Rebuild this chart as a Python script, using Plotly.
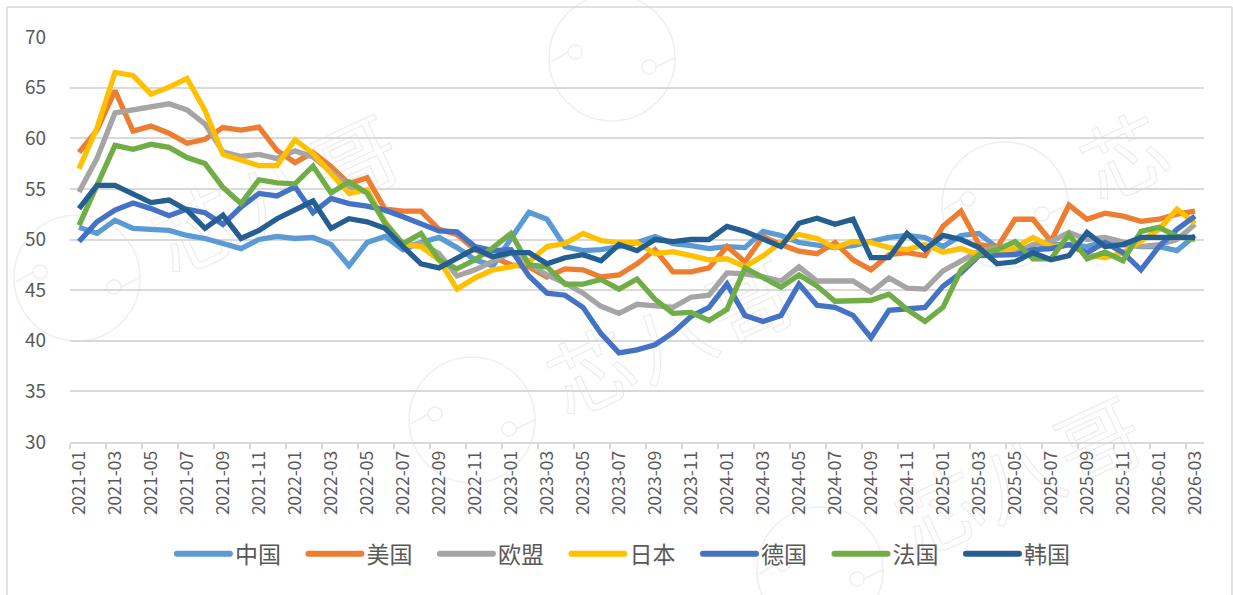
import plotly.graph_objects as go

months = [f"{y}-{m:02d}" for y in range(2021, 2027) for m in range(1, 13)][:63]

china = [51.2,50.6,51.9,51.1,51.0,50.9,50.4,50.1,49.6,49.1,50.0,50.3,50.1,50.2,49.5,47.4,49.7,50.3,49.0,49.7,50.2,49.2,48.0,47.4,50.1,52.7,52.0,49.3,48.9,49.0,49.3,49.7,50.3,49.6,49.4,49.1,49.3,49.2,50.8,50.4,49.7,49.5,49.2,49.4,49.8,50.2,50.4,50.2,49.3,50.4,50.6,49.2,48.7,48.8,49.5,49.5,49.3,49.8,49.5,49.3,49.3,48.9,50.4]
usa = [58.6,60.8,64.7,60.7,61.2,60.5,59.5,59.9,61.05,60.8,61.1,58.8,57.6,58.6,57.2,55.5,56.1,53.0,52.8,52.8,51.0,50.5,49.0,48.2,47.5,47.3,46.3,47.1,47.0,46.3,46.5,47.6,49.0,46.8,46.8,47.2,49.3,47.8,50.3,49.5,48.85,48.6,49.7,48.0,47.0,48.5,48.7,48.4,51.3,52.8,49.5,49.2,52.0,52.0,49.8,53.4,52.0,52.6,52.3,51.8,52.0,52.5,52.8]
eu = [54.7,58.0,62.5,62.8,63.1,63.4,62.8,61.4,58.65,58.2,58.4,58.0,58.75,58.15,56.7,55.2,54.7,51.75,49.4,49.6,48.6,46.4,47.0,47.9,48.7,47.6,46.5,45.7,44.7,43.4,42.7,43.6,43.5,43.3,44.3,44.5,46.7,46.6,46.3,45.9,47.3,45.9,45.9,45.9,44.8,46.2,45.2,45.1,46.9,47.9,48.85,49.2,48.7,49.5,49.8,50.7,50.0,50.2,49.8,49.3,49.5,50.0,51.5]
japan = [57.0,61.0,66.5,66.2,64.35,65.05,65.9,62.75,58.4,57.8,57.3,57.3,59.85,58.5,56.5,54.55,54.9,51.75,49.5,49.3,48.0,45.1,46.2,47.0,47.3,47.8,49.3,49.6,50.6,49.9,49.7,49.7,48.6,48.8,48.4,48.0,48.1,47.3,48.4,49.7,50.5,50.1,49.2,49.8,49.7,49.2,49.0,49.5,48.75,49.1,48.5,48.5,49.2,50.2,49.3,49.5,48.5,48.2,48.7,49.8,51.0,53.0,51.6]
germany = [49.8,51.75,52.9,53.6,53.05,52.35,53.0,52.65,51.5,53.2,54.55,54.3,55.2,52.65,54.05,53.55,53.3,52.9,52.25,51.6,50.85,50.75,49.3,48.9,49.0,46.4,44.7,44.5,43.3,40.7,38.8,39.1,39.6,40.8,42.4,43.3,45.6,42.5,41.9,42.5,45.6,43.5,43.3,42.5,40.3,43.0,43.2,43.3,45.4,46.7,48.4,48.4,48.5,49.0,49.1,49.5,48.7,49.7,48.7,47.0,49.3,51.0,52.3]
france = [51.4,55.5,59.3,58.9,59.4,59.1,58.1,57.5,55.15,53.55,55.9,55.6,55.5,57.25,54.6,55.7,54.6,51.6,49.6,50.6,48.0,47.1,48.0,49.2,50.6,47.5,47.3,45.6,45.6,46.05,45.1,46.1,44.1,42.7,42.8,42.0,43.1,47.2,46.3,45.3,46.5,45.4,43.9,43.9,44.0,44.6,43.1,41.9,43.3,47.0,48.5,49.0,49.8,48.1,48.1,50.5,48.1,48.75,47.9,50.8,51.2,50.3,50.0]
korea = [53.05,55.35,55.35,54.55,53.65,53.9,52.9,51.1,52.4,50.1,50.9,52.05,52.9,53.8,51.1,52.05,51.75,51.1,49.3,47.6,47.2,48.2,49.1,48.3,48.7,48.7,47.6,48.2,48.5,47.9,49.5,48.9,50.0,49.8,50.0,50.0,51.3,50.8,50.0,49.3,51.6,52.1,51.5,52.0,48.2,48.2,50.6,49.0,50.4,50.0,49.2,47.6,47.8,48.7,48.0,48.4,50.7,49.3,49.5,50.2,50.2,50.2,50.2]

names = ["中国", "美国", "欧盟", "日本", "德国", "法国", "韩国"]
series = [china, usa, eu, japan, germany, france, korea]
colors = ["#5B9BD5", "#ED7D31", "#A5A5A5", "#FFC000", "#4472C4", "#70AD47", "#255E91"]

FONT = "Noto Sans CJK SC"
W, H = 1233, 595
L, R, T, B = 70, 29, 37, 153
PW, PH = W - L - R, H - T - B

def px(x):
    return (x - L) / PW

def py(y):
    return 1 - (y - T) / PH

# faint page watermark: a round logo followed by rotated characters
wm_color = "#EFEFEF"
wm_logos = [(77, 278), (612, 58), (472, 420), (1005, 205), (820, 570)]
wm_chars = [("芯", 200, 238), ("八", 280, 203), ("哥", 360, 168),
            ("芯", 595, 380), ("八", 675, 345), ("哥", 755, 310),
            ("芯", 1128, 165),
            ("芯", 943, 520), ("八", 1023, 485), ("哥", 1103, 450)]
shapes = []
for cx, cy in wm_logos:
    shapes.append(dict(type="circle", xref="paper", yref="paper", layer="below",
                       x0=px(cx - 63), x1=px(cx + 63), y0=py(cy + 63), y1=py(cy - 63),
                       line=dict(color=wm_color, width=1.5)))
    for dx, dy, ex, ey in [(-37, -6, -61, 4), (37, 9, 62, 0)]:
        shapes.append(dict(type="circle", xref="paper", yref="paper", layer="below",
                           x0=px(cx + dx - 7), x1=px(cx + dx + 7),
                           y0=py(cy + dy + 7), y1=py(cy + dy - 7),
                           line=dict(color=wm_color, width=1.5)))
        shapes.append(dict(type="line", xref="paper", yref="paper", layer="below",
                           x0=px(cx + dx + (-7 if dx < 0 else 7)), x1=px(cx + ex),
                           y0=py(cy + dy), y1=py(cy + ey),
                           line=dict(color=wm_color, width=1.5)))
for ch, wx, wy in wm_chars:
    shapes.append(dict(type="rect", xref="paper", yref="paper", layer="below",
                       x0=px(wx - 10), x1=px(wx + 10),
                       y0=py(wy + 10), y1=py(wy - 10),
                       line=dict(width=0), fillcolor="rgba(0,0,0,0)",
                       label=dict(text=ch, textposition="middle center", textangle=-25,
                                  font=dict(size=84, color="#F1F1F1", family=FONT))))

# chart-frame edges
for x0, y0, x1, y1 in [(7, 7, 7, 595), (7, 7, 1232, 7), (1232, 7, 1232, 595)]:
    shapes.append(dict(type="line", xref="paper", yref="paper", layer="below",
                       x0=px(x0), x1=px(x1), y0=py(y0), y1=py(y1),
                       line=dict(color="#D9D9D9", width=1.5)))

fig = go.Figure()
for name, vals, col in zip(names, series, colors):
    fig.add_trace(go.Scatter(x=months, y=vals, name=name, mode="lines",
                             line=dict(color=col, width=5.3, shape="linear"),
                             hoverinfo="skip"))

fig.update_layout(
    width=W, height=H, autosize=False,
    margin=dict(l=L, r=R, t=T, b=B, autoexpand=False),
    paper_bgcolor="white", plot_bgcolor="white",
    font=dict(family=FONT, color="#595959"),
    showlegend=True,
    shapes=shapes,
    legend=dict(orientation="h", x=0.496, xanchor="center", y=-0.223, yanchor="top",
                font=dict(size=23, color="#595959", family=FONT),
                itemwidth=53, itemsizing="constant", traceorder="normal",
                entrywidth=63.5, entrywidthmode="pixels",
                bgcolor="rgba(0,0,0,0)", tracegroupgap=0),
    xaxis=dict(type="category", categoryorder="array", categoryarray=months,
               dtick=2, tickangle=-90, tickson="boundaries",
               range=[-0.5, 62.5], showgrid=False, showline=True,
               linecolor="#D9D9D9", linewidth=1.5, ticks="outside", ticklen=5,
               tickcolor="#D9D9D9", tickwidth=1.5,
               tickfont=dict(size=17.5, color="#595959", family=FONT)),
    yaxis=dict(range=[30, 70], dtick=5, showgrid=True, gridcolor="#D9D9D9", gridwidth=1.5,
               zeroline=False, showline=False, ticks="", ticklen=0, ticklabelstandoff=23,
               tickfont=dict(size=19, color="#595959", family=FONT)),
)

post = """
document.body.style.margin = '0';
document.querySelectorAll('.legendlines path').forEach(function (p) {
  p.style.strokeLinecap = 'round';
  p.style.strokeWidth = '6px';
});
document.querySelectorAll('.shapelayer text').forEach(function (t) {
  t.style.fill = 'none';
  t.style.stroke = '#EDEDED';
  t.style.strokeWidth = '1.2px';
});
"""
fig.write_html("out.html", post_script=post, config={"displayModeBar": False})
